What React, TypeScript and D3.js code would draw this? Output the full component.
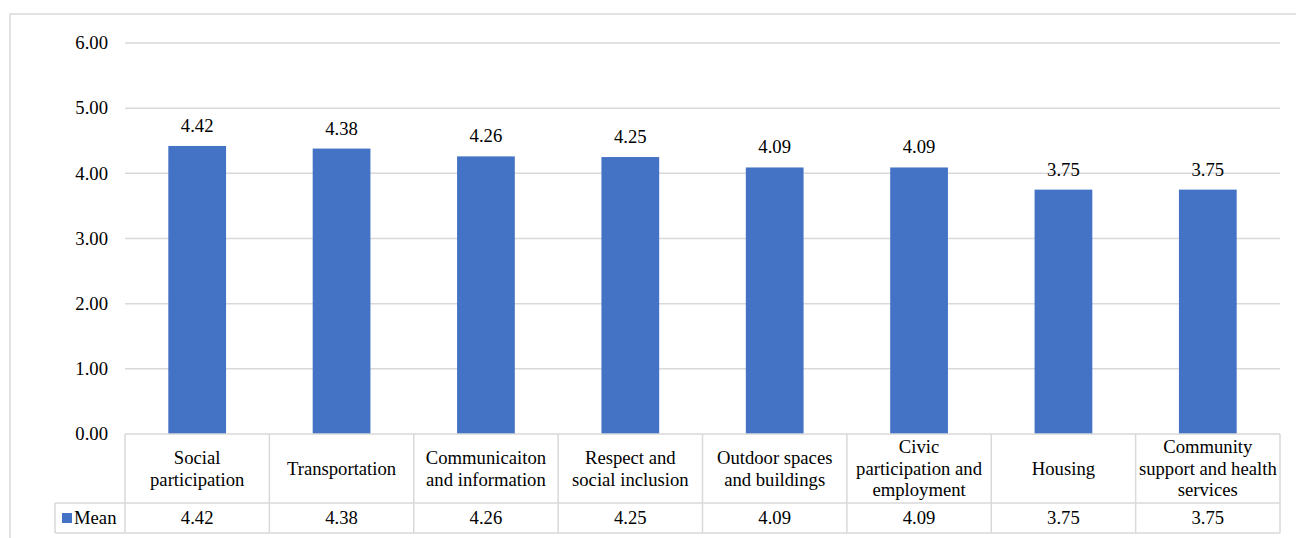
import React from "react";
import * as d3 from "d3";

const categories: string[][] = [
  ["Social", "participation"],
  ["Transportation"],
  ["Communicaiton", "and information"],
  ["Respect and", "social inclusion"],
  ["Outdoor spaces", "and buildings"],
  ["Civic", "participation and", "employment"],
  ["Housing"],
  ["Community", "support and health", "services"],
];
const meanValues = [4.42, 4.38, 4.26, 4.25, 4.09, 4.09, 3.75, 3.75];
const yTicks = [0, 1, 2, 3, 4, 5, 6];
const seriesName = "Mean";

const W = 1296;
const H = 538;
const left = 125;
const right = 1280;
const top = 43;
const base = 434;
const catRowBottom = 503;
const legRowBottom = 533;
const legLeft = 55;
const barColor = "#4472C4";
const gridColor = "#D9D9D9";
const fs = 18.67;
const ts: React.CSSProperties = { fontFamily: '"Liberation Serif"', fontSize: fs };

export default function App() {
  const idx = categories.map((_, i) => String(i));
  const x = d3.scaleBand<string>().domain(idx).range([left, right]).paddingInner(0).paddingOuter(0);
  const y = d3.scaleLinear().domain([0, 6]).range([base, top]);
  const bw = x.bandwidth() * 0.4;
  const lineH = 21.5;
  const dy = 6.3;

  return (
    <svg width={W} height={H} style={{ position: "absolute", left: 0, top: 0 }}>
      <rect x={0} y={0} width={W} height={H} fill="#fff" />
      <rect x={10} y={14} width={W + 20} height={H + 20} fill="none" stroke={gridColor} strokeWidth={1.5} />
      {yTicks.map((t) => (
        <g key={t}>
          {t > 0 && (
            <line x1={left} x2={right} y1={y(t)} y2={y(t)} stroke={gridColor} strokeWidth={1.5} />
          )}
          <text x={108} y={y(t) + dy} textAnchor="end" style={ts} fill="#000">
            {t.toFixed(2)}
          </text>
        </g>
      ))}
      {meanValues.map((v, i) => {
        const cx = (x(String(i)) as number) + x.bandwidth() / 2;
        return (
          <g key={i}>
            <rect x={cx - bw / 2} y={y(v)} width={bw} height={base - y(v)} fill={barColor} />
            <text x={cx} y={y(v) - 14} textAnchor="middle" style={ts} fill="#000">
              {v.toFixed(2)}
            </text>
          </g>
        );
      })}
      <g stroke={gridColor} strokeWidth={1.5} fill="none">
        <line x1={left} x2={right} y1={base} y2={base} />
        <line x1={legLeft} x2={right} y1={catRowBottom} y2={catRowBottom} />
        <line x1={legLeft} x2={right} y1={legRowBottom} y2={legRowBottom} />
        <line x1={legLeft} x2={legLeft} y1={catRowBottom} y2={legRowBottom} />
        {idx.concat([String(categories.length)]).map((k, i) => {
          const xx = i < categories.length ? (x(k) as number) : right;
          return <line key={k} x1={xx} x2={xx} y1={base} y2={legRowBottom} />;
        })}
      </g>
      {categories.map((lines, i) => {
        const cx = (x(String(i)) as number) + x.bandwidth() / 2;
        const mid = (base + catRowBottom) / 2;
        const startY = mid - ((lines.length - 1) * lineH) / 2 + dy;
        return (
          <g key={i}>
            {lines.map((ln, j) => (
              <text key={j} x={cx} y={startY + j * lineH} textAnchor="middle" style={ts} fill="#000">
                {ln}
              </text>
            ))}
            <text x={cx} y={(catRowBottom + legRowBottom) / 2 + dy} textAnchor="middle" style={ts} fill="#000">
              {meanValues[i].toFixed(2)}
            </text>
          </g>
        );
      })}
      <rect x={62} y={513} width={10} height={10} fill={barColor} />
      <text x={74} y={(catRowBottom + legRowBottom) / 2 + dy} style={ts} fill="#000">
        {seriesName}
      </text>
    </svg>
  );
}
